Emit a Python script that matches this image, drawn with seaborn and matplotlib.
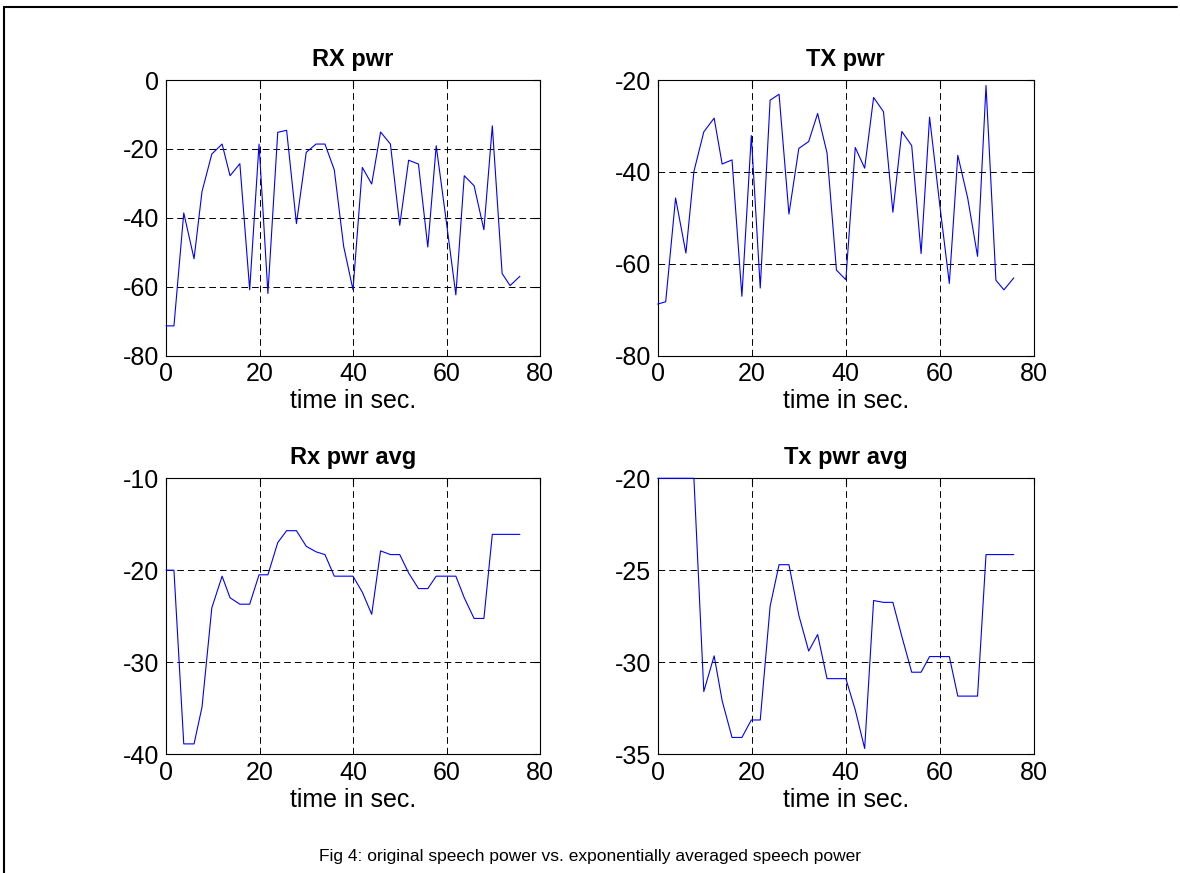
import matplotlib
matplotlib.use("Agg")
import matplotlib.pyplot as plt
from matplotlib.lines import Line2D
import seaborn as sns

time_s = [0, 1.7, 3.8, 6.0, 7.7, 9.8, 12.0, 13.7, 15.8, 17.9,
          19.9, 21.8, 23.9, 25.8, 27.9, 30.0, 32.1, 34.0, 36.0, 38.0,
          40.0, 42.0, 44.0, 45.9, 48.0, 50.0, 51.9, 54.0, 56.0, 57.8,
          60.0, 62.0, 63.8, 65.9, 68.0, 69.8, 71.9, 73.6, 75.7]

rx_pwr = [-71.4, -71.4, -38.6, -51.9, -32.4, -21.5, -18.6, -27.8, -24.3, -60.9,
          -18.6, -62.0, -15.2, -14.6, -41.7, -21.0, -18.6, -18.6, -26.1, -48.3,
          -60.9, -25.4, -30.2, -15.1, -18.6, -42.2, -23.3, -24.4, -48.5, -19.1,
          -41.5, -62.4, -27.8, -30.7, -43.5, -13.3, -56.2, -59.7, -57.0]

tx_pwr = [-68.8, -68.3, -45.7, -57.7, -39.9, -31.3, -28.3, -38.3, -37.4, -67.1,
          -32.1, -65.3, -24.4, -23.1, -49.2, -34.9, -33.4, -27.3, -35.9, -61.4,
          -63.5, -34.7, -39.2, -23.8, -26.9, -48.8, -31.2, -34.3, -57.8, -28.1,
          -47.5, -64.3, -36.4, -45.7, -58.4, -21.2, -63.6, -65.7, -63.1]

rx_avg = [-20.0, -20.0, -38.9, -38.9, -34.9, -24.1, -20.65, -23.0, -23.7, -23.7,
          -20.5, -20.5, -17.0, -15.7, -15.7, -17.4, -18.0, -18.3, -20.65, -20.65,
          -20.65, -22.4, -24.8, -17.9, -18.3, -18.3, -20.3, -22.0, -22.0, -20.65,
          -20.65, -20.65, -23.0, -25.25, -25.25, -16.1, -16.1, -16.1, -16.1]

tx_avg = [-20.0, -20.0, -20.0, -20.0, -20.0, -31.6, -29.66, -32.1, -34.1, -34.1,
          -33.15, -33.15, -26.96, -24.7, -24.7, -27.45, -29.4, -28.5, -30.9, -30.9,
          -30.9, -32.6, -34.7, -26.65, -26.75, -26.75, -28.6, -30.55, -30.55, -29.7,
          -29.7, -29.7, -31.85, -31.85, -31.85, -24.15, -24.15, -24.15, -24.15]

titles = ["RX pwr", "TX pwr", "Rx pwr avg", "Tx pwr avg"]
x_ticks = [0, 20, 40, 60, 80]
y_ticks_list = [[-80, -60, -40, -20, 0],
                [-80, -60, -40, -20],
                [-40, -30, -20, -10],
                [-35, -30, -25, -20]]
x_label = "time in sec."
caption = "Fig 4: original speech power vs. exponentially averaged speech power"

sns.set_style("white")
plt.rcParams['font.family'] = ['Liberation Sans', 'DejaVu Sans']
plt.rcParams['axes.unicode_minus'] = False
plt.rcParams['text.color'] = 'black'
plt.rcParams['axes.labelcolor'] = 'black'

W, H = 1180, 873
fig = plt.figure(figsize=(W / 100, H / 100), dpi=100)

def box(l, t, r, b):
    return [l / W, 1 - b / H, (r - l) / W, (b - t) / H]

positions = [box(166, 80, 540, 355.5), box(657.7, 80, 1034, 355.5),
             box(166, 478.3, 540, 754), box(657.7, 478.3, 1034, 754)]
series = [rx_pwr, tx_pwr, rx_avg, tx_avg]

for pos, ys, title, yt in zip(positions, series, titles, y_ticks_list):
    ax = fig.add_axes(pos)
    sns.lineplot(x=time_s, y=ys, ax=ax, color='#0000ff', linewidth=0.8,
                 estimator=None, sort=False)
    for ln in ax.get_lines():
        ln.set_clip_on(False)
        ln.set_zorder(3)
    ax.set_xlim(0, 80)
    ax.set_ylim(yt[0], yt[-1])
    ax.set_xticks(x_ticks)
    ax.set_yticks(yt)
    ax.grid(True, color='black', linestyle=(0, (6.9, 4.1)), linewidth=0.7)
    ax.tick_params(direction='in', length=5, width=0.8, top=True, right=True,
                   labelsize=18, pad=5, colors='black')
    for sp in ax.spines.values():
        sp.set_color('black')
        sp.set_linewidth(0.8)
    ax.set_title(title, fontsize=17, fontweight='bold', pad=10, color='black')
    ax.set_xlabel(x_label, fontsize=18, labelpad=2, color='black')
    ax.set_ylabel("")

fig.text(590 / W, 1 - 857 / H, caption, ha='center', va='center', fontsize=12.5,
         color='black')

# outer frame
fig.add_artist(Line2D([4 / W, 4 / W], [0, 1 - 7 / H], transform=fig.transFigure,
                      color='black', linewidth=1.5))
fig.add_artist(Line2D([4 / W, 1177 / W], [1 - 7 / H, 1 - 7 / H], transform=fig.transFigure,
                      color='black', linewidth=1.5))

fig.savefig("out.png", dpi=100, facecolor='white')
